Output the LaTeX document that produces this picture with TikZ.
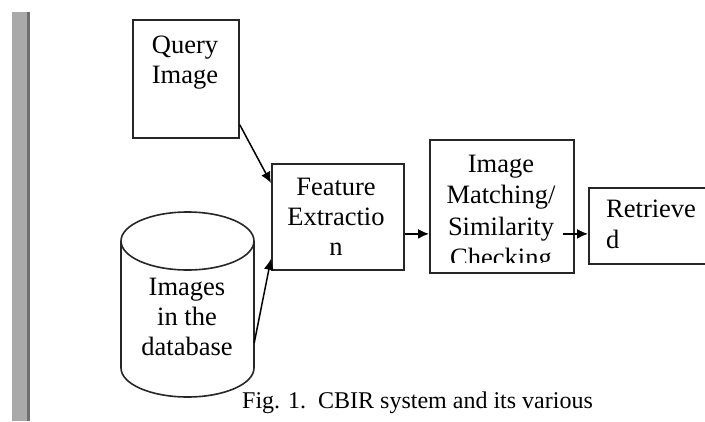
\documentclass[tikz,border=0pt]{standalone}
\usepackage{fontspec}
\setmainfont{Liberation Serif}
\usetikzlibrary{arrows.meta,calc}
\definecolor{barGray}{HTML}{A9A9A9}
\definecolor{barDark}{HTML}{6E6E6E}
\definecolor{lineCol}{HTML}{262626}
\begin{document}
\begin{tikzpicture}[x=1pt,y=-1pt,
  box/.style={draw=lineCol,line width=1.8pt,inner sep=0,anchor=north west},
  txt/.style={inner sep=0,anchor=base,text=black,font=\fontsize{26.5}{30}\selectfont},
  ltxt/.style={txt,anchor=base west},
  cyl/.style={draw=lineCol,line width=1.6pt},
  arr/.style={draw=black,line width=1.5pt,-{Latex[length=11pt,width=10pt]}}]
\clip (0,0) rectangle (705,421);
\fill[white] (0,0) rectangle (705,421);
% left bar
\fill[barGray] (12,12) rectangle (27,421);
\fill[barDark] (27,12) rectangle (29.5,421);
% boxes
\node[box,minimum width=106,minimum height=118] (q) at (132,19) {};
\node[box,minimum width=132,minimum height=106] (fe) at (271,163) {};
\node[box,minimum width=144,minimum height=133] (im) at (429,139) {};
\node[box,minimum width=140,minimum height=76] (rt) at (588,187) {};
% database cylinder
\node[inner sep=0,minimum width=133,minimum height=186] (db) at (187.5,304) {};
\draw[cyl] (121,241) -- (121,368) arc[start angle=180,end angle=0,x radius=66.5,y radius=29] -- (254,241);
\draw[cyl] (187.5,241) ellipse[x radius=66.5,y radius=29];
% texts
\node[txt] (q1) at (185,53) {Query};
\node[txt] (q2) at (185,83) {Image};
\node[txt] (f1) at (336,195) {Feature};
\node[txt] (f2) at (336,225) {Extractio};
\node[txt] (f3) at (336,255) {n};
\node[txt] (d1) at (187,295) {Images};
\node[txt] (d2) at (187,325) {in the};
\node[txt] (d3) at (187,355) {database};
\begin{scope}
\clip (429,139) rectangle (573,262);
\node[txt] (m1) at (501,172) {Image};
\node[txt] (m2) at (501,203) {Matching/};
\node[txt] (m3) at (501,235) {Similarity};
\node[txt] (m4) at (501,266) {Checking};
\end{scope}
\node[ltxt] (r1) at (606,217) {Retrieve};
\node[ltxt] (r2) at (606,248) {d};
% caption
\node[inner sep=0,anchor=base west,font=\fontsize{24}{28}\selectfont] (cap) at (242,408) {Fig. 1.\ \ CBIR system and its various};
% arrows
\draw[arr] ($(q.south east)+(0,-14)$) -- ($(fe.north west)+(0,20)$);
\draw[arr] ($(db.east)+(0,39)$) -- ($(fe.south west)+(0,-12)$);
\coordinate (a3) at ($(fe.east)+(0,17)$);
\draw[arr] (a3) -- (a3 -| im.west);
\coordinate (a4) at ($(im.east)+(-12,27.5)$);
\draw[arr] (a4) -- (a4 -| rt.west);
\end{tikzpicture}
\end{document}
